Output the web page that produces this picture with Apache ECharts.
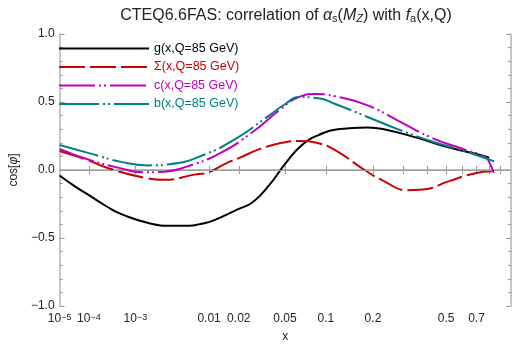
<!DOCTYPE html>
<html>
<head>
<meta charset="UTF-8">
<title>CTEQ6.6FAS correlation</title>
<script src="https://cdn.jsdelivr.net/npm/echarts@6/dist/echarts.min.js"></script>
<style>
    html, body { margin: 0; padding: 0; background: #fff; }
    #chart { width: 512px; height: 348px; }
</style>
</head>
<body>
<div id="chart"></div>
<script>
    // curves: [x, cos(phi)]
    const gData = [
        [1e-5, -0.04], [3.8e-5, -0.12], [1e-4, -0.185], [2.87e-4, -0.272], [6e-4, -0.33],
        [1.74e-3, -0.393], [3.5e-3, -0.41], [5.9e-3, -0.41], [8e-3, -0.397], [0.0112, -0.37],
        [0.0195, -0.29], [0.027, -0.235], [0.0374, -0.11], [0.0507, 0.051], [0.0675, 0.184],
        [0.0889, 0.257], [0.12, 0.30], [0.186, 0.313], [0.232, 0.30], [0.352, 0.238],
        [0.518, 0.165], [0.742, 0.107], [0.8, 0.09]
    ];
    const sigmaData = [
        [1e-5, 0.14], [1e-4, 0.07], [2.87e-4, 0.015], [1.44e-3, -0.058], [2.8e-3, -0.072],
        [6.8e-3, -0.034], [0.0095, -0.02], [0.0152, 0.051], [0.02, 0.087], [0.0312, 0.155],
        [0.0502, 0.204], [0.0638, 0.213], [0.0889, 0.196], [0.1148, 0.148], [0.177, 0.002],
        [0.232, -0.082], [0.312, -0.148], [0.382, -0.143], [0.518, -0.082], [0.668, -0.029],
        [0.823, -0.01], [0.845, -0.015]
    ];
    const cData = [
        [1e-5, 0.155], [1e-4, 0.075], [5.73e-4, 0.01], [1.28e-3, -0.017], [2.84e-3, -0.012],
        [5.64e-3, 0.027], [0.0131, 0.124], [0.027, 0.281], [0.045, 0.439], [0.0639, 0.536],
        [0.084, 0.558], [0.1147, 0.543], [0.1855, 0.475], [0.287, 0.354], [0.429, 0.233],
        [0.623, 0.148], [0.769, 0.095], [0.81, 0.04], [0.84, -0.02]
    ];
    const bData = [
        [1e-5, 0.184], [1e-4, 0.124], [5.73e-4, 0.058], [1.62e-3, 0.034], [3.49e-3, 0.044],
        [8.76e-3, 0.112], [0.019, 0.233], [0.0374, 0.402], [0.0507, 0.487], [0.0639, 0.536],
        [0.0887, 0.528], [0.1147, 0.487], [0.1855, 0.39], [0.287, 0.293], [0.429, 0.208],
        [0.623, 0.136], [0.843, 0.063]
    ];

    const seriesNames = ['g(x,Q=85 GeV)', 'Σ(x,Q=85 GeV)', 'c(x,Q=85 GeV)', 'b(x,Q=85 GeV)'];
    const seriesColors = ['#000000', '#cc0000', '#bf00bf', '#008080'];

    const xLabelValues = [1e-5, 1e-4, 1e-3, 0.01, 0.02, 0.05, 0.1, 0.2, 0.5, 0.7];
    const xLabelTexts = ['10{s|−5}', '10{s|−4}', '10{s|−3}', '0.01', '0.02', '0.05', '0.1', '0.2', '0.5', '0.7'];
    const xTickValues = [1e-4, 1e-3, 0.01, 0.02, 0.05, 0.1, 0.2, 0.3, 0.4, 0.5, 0.6, 0.7, 0.8, 0.9];

    // the x axis is drawn in x^(1/5)
    const P = 0.2;
    const sc = x => Math.pow(x, P);
    const toAxis = arr => arr.map(d => [sc(d[0]), d[1]]);

    const chart = echarts.init(document.getElementById('chart'));
    const frame = '#b4b4b4';
    const font = 'Liberation Sans, Arial, sans-serif';

    function xAxisOpt(pos, labels) {
        return {
            type: 'value', position: pos, min: sc(1e-5), max: 1,
            axisLine: { show: true, lineStyle: { color: frame, width: 1.5 } },
            axisTick: { show: true, inside: true, length: 4, lineStyle: { color: '#999' },
                customValues: xTickValues.map(sc) },
            axisLabel: {
                show: labels, margin: 7, fontSize: 12, fontFamily: font, color: '#222',
                customValues: xLabelValues.map(sc),
                formatter: v => {
                    for (let i = 0; i < xLabelValues.length; i++) {
                        if (Math.abs(sc(xLabelValues[i]) - v) < 1e-6) return xLabelTexts[i];
                    }
                    return '';
                },
                rich: { s: { fontSize: 9, verticalAlign: 'top', lineHeight: 10, fontFamily: font, color: '#222' } }
            },
            splitLine: { show: false },
            name: labels ? 'x' : '', nameLocation: 'middle', nameGap: 25,
            nameTextStyle: { fontSize: 12, fontFamily: font, color: '#222' }
        };
    }

    function yAxisOpt(pos, labels) {
        return {
            type: 'value', position: pos, min: -1, max: 1, interval: 0.5,
            axisLine: { show: true, lineStyle: { color: frame, width: 1.5 } },
            axisTick: { show: true, inside: true, length: 5, lineStyle: { color: '#999' } },
            minorTick: { show: true, splitNumber: 5, length: 3, lineStyle: { color: '#999' } },
            axisLabel: {
                show: labels, margin: 5, fontSize: 12, fontFamily: font, color: '#222',
                formatter: v => v.toFixed(1).replace('-', '−')
            },
            splitLine: { show: false },
            name: labels ? 'cos[{i|φ}]' : '', nameLocation: 'middle', nameGap: 36,
            nameTextStyle: { fontSize: 12, fontFamily: font, color: '#222',
                rich: { i: { fontStyle: 'italic', fontSize: 12, fontFamily: font, color: '#222' } } }
        };
    }

    const lineTypes = ['solid', [26, 5], [36, 4, 2, 3, 2, 4], [40, 4, 2, 3, 2, 4]];
    const datasets = [gData, sigmaData, cData, bData];

    const series = datasets.map((d, i) => ({
        name: seriesNames[i],
        type: 'line',
        data: toAxis(d),
        smooth: 0.5,
        symbol: 'none',
        showSymbol: false,
        color: seriesColors[i],
        lineStyle: { width: 2, color: seriesColors[i], type: lineTypes[i] },
        z: 3 + i
    }));
    series[0].markLine = {
        silent: true, symbol: 'none', label: { show: false },
        lineStyle: { color: '#a0a0a0', width: 1, type: 'solid' },
        data: [{ yAxis: 0 }]
    };

    chart.setOption({
        animation: false,
        backgroundColor: '#fff',
        title: {
            text: 'CTEQ6.6FAS: correlation of {i|α}{sb|s}({i|M}{sbi|Z}) with {i|f}{sb|a}(x,Q)',
            left: 281, top: 3, textAlign: 'center',
            textStyle: {
                fontSize: 16, fontWeight: 'normal', fontFamily: font, color: '#222',
                rich: {
                    i: { fontStyle: 'italic', fontSize: 16, fontFamily: font, color: '#222' },
                    sb: { fontSize: 11, verticalAlign: 'bottom', fontFamily: font, color: '#222' },
                    sbi: { fontSize: 11, fontStyle: 'italic', verticalAlign: 'bottom', fontFamily: font, color: '#222' }
                }
            }
        },
        legend: {
            orient: 'vertical', left: 58, top: 42, padding: 0,
            itemWidth: 90, itemHeight: 14, itemGap: 5.5,
            itemStyle: { opacity: 0 },
            textStyle: { fontSize: 12.5, fontFamily: font },
            data: seriesNames.map((n, i) => ({ name: n, textStyle: { color: seriesColors[i] } }))
        },
        grid: { left: 51, right: 1, top: 34, bottom: 38 },
        xAxis: [xAxisOpt('bottom', true), xAxisOpt('top', false)],
        yAxis: [yAxisOpt('left', true), yAxisOpt('right', false)],
        series: series
    });
</script>
</body>
</html>
